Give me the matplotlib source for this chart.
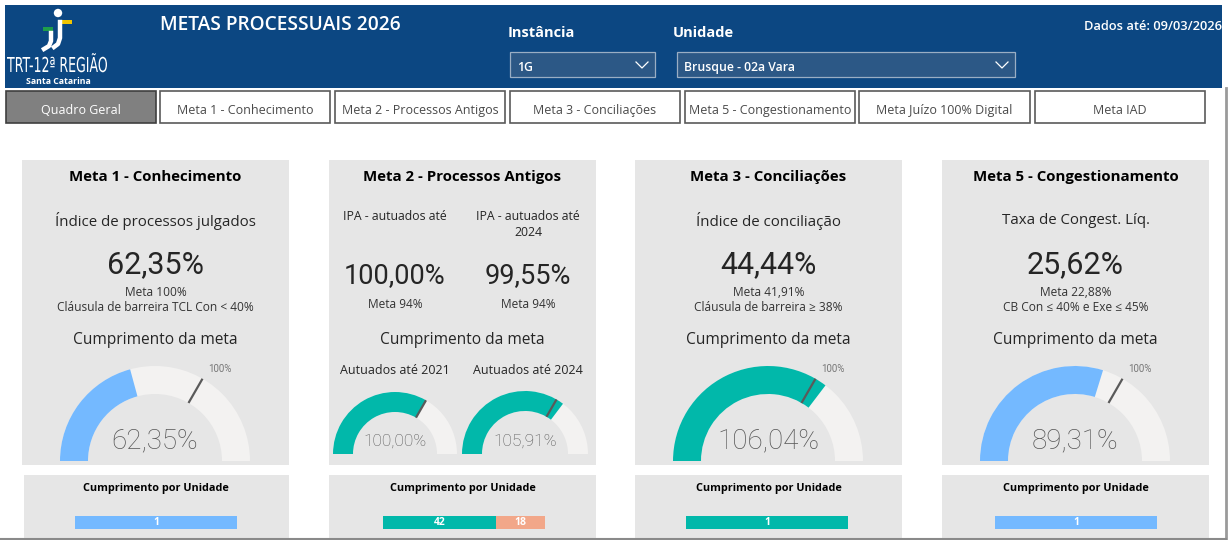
import math
import matplotlib.pyplot as plt
from matplotlib.patches import Rectangle, Wedge, Circle, PathPatch
from matplotlib.textpath import TextPath
from matplotlib.font_manager import FontProperties
from matplotlib.transforms import Affine2D

W, H = 1230, 540

# ── dados ───────────────────────────────────────────────────────────────
TITULO = "METAS PROCESSUAIS 2026"
INSTANCIA = "1G"
UNIDADE = "Brusque - 02a Vara"
DADOS_ATE = "Dados até: 09/03/2026"
TABS = ["Quadro Geral", "Meta 1 - Conhecimento", "Meta 2 - Processos Antigos",
        "Meta 3 - Conciliações", "Meta 5 - Congestionamento",
        "Meta Juízo 100% Digital", "Meta IAD"]

META_TITULOS = ["Meta 1 - Conhecimento", "Meta 2 - Processos Antigos",
                "Meta 3 - Conciliações", "Meta 5 - Congestionamento"]
INDICADORES = ["Índice de processos julgados", "Índice de conciliação",
               "Taxa de Congest. Líq."]          # metas 1, 3, 5
INDICADOR_VAL = [62.35, 44.44, 25.62]
INDICADOR_META = ["Meta 100%\nCláusula de barreira TCL Con < 40%",
                  "Meta 41,91%\nCláusula de barreira ≥ 38%",
                  "Meta 22,88%\nCB Con ≤ 40% e Exe ≤ 45%"]

META2_LABELS = ["IPA - autuados até", "IPA - autuados até\n2024"]
META2_VAL = [100.00, 99.55]
META2_META = [94, 94]
META2_GAUGE_LABELS = ["Autuados até 2021", "Autuados até 2024"]

# cumprimento da meta (%)
CUMPR_META1 = 62.35
CUMPR_META2 = [100.00, 105.91]
CUMPR_META3 = 106.04
CUMPR_META5 = 89.31
ALVO = 100
GAUGE_MAX = 150

# cumprimento por unidade
UNID_COUNTS = [[1], [42, 18], [1], [1]]

BLUE = "#74B9FF"
GREEN = "#01B8AA"
SALMON = "#F2A789"
UNID_COLORS = [[BLUE], [GREEN, SALMON], [GREEN], [BLUE]]

HEADER = "#0C4782"
PANEL = "#E6E6E6"
GAUGE_BG = "#F3F2F1"
FONT = ["Open Sans", "DejaVu Sans"]
NUMF = ["Roboto", "DejaVu Sans"]

fig = plt.figure(figsize=(W / 100, H / 100), dpi=100)
ax = fig.add_axes([0, 0, 1, 1])
ax.set_xlim(0, W)
ax.set_ylim(0, H)
ax.axis("off")


def Y(y):
    return H - y


def rect(x, y, w, h, fc, ec="none", lw=0, z=1):
    ax.add_patch(Rectangle((x, Y(y) - h), w, h, fc=fc, ec=ec, lw=lw, zorder=z))


def txt(x, y, s, size, color="#252525", weight="normal", ha="center", family=FONT,
        va="center", **kw):
    ax.text(x, Y(y), s, fontsize=size, color=color, fontweight=weight, ha=ha,
            va=va, family=family, zorder=5, **kw)


def fitted_text(s, x0, x1, y_top, y_bot, color, weight="normal"):
    # texto estreito (condensado) ajustado à caixa
    tp = TextPath((0, 0), s, size=20, prop=FontProperties(family="DejaVu Sans", weight=weight))
    ext = tp.get_extents()
    cap = TextPath((0, 0), "T", size=20, prop=FontProperties(family="DejaVu Sans", weight=weight)).get_extents()
    sx = (x1 - x0) / ext.width
    sy = (y_bot - y_top) / cap.height
    tr = Affine2D().translate(-ext.x0, 0).scale(sx, sy).translate(x0, Y(y_bot))
    ax.add_patch(PathPatch(tr.transform_path(tp), fc=color, ec="none", zorder=5))


def fmt(v):
    return f"{v:.2f}".replace(".", ",") + "%"


def gauge(cx, cy, R, r, val, color, val_size, val_dy, label_100=True):
    c = (cx, Y(cy))
    ax.add_patch(Wedge(c, R, 0, 180, width=R - r, fc=GAUGE_BG, ec="none", zorder=2))
    ang = 180 - 180 * min(val, GAUGE_MAX) / GAUGE_MAX
    ax.add_patch(Wedge(c, R, ang, 180, width=R - r, fc=color, ec="none", zorder=3))
    t = math.radians(180 - 180 * ALVO / GAUGE_MAX)
    ax.plot([cx + r * math.cos(t), cx + R * math.cos(t)],
            [Y(cy) + r * math.sin(t), Y(cy) + R * math.sin(t)],
            color="#5A5A5A", lw=1.6, zorder=4, solid_capstyle="butt")
    if label_100:
        txt(cx + (R + 14) * math.cos(t) + 10, cy - (R + 14) * math.sin(t) + 2,
            f"{ALVO}%", 7, color="#777777", family=NUMF)
    txt(cx, cy - val_dy, fmt(val), val_size, color="#555555", family=NUMF, weight="light")


# ── cabeçalho ──────────────────────────────────────────────────────────
rect(5, 5, 1217, 83, HEADER)
# logo
ax.add_patch(Circle((58, Y(13)), 4.2, fc="white", ec="none", zorder=4))
rect(62, 20, 10, 3.5, "#F2C500", z=4)
rect(43, 27, 10, 3.5, "#1E9E4A", z=4)
ax.plot([60, 60, 58, 54], [Y(22), Y(38), Y(44), Y(47)], color="white", lw=3.2, zorder=4)
ax.plot([51, 51, 49, 44], [Y(33), Y(41), Y(46), Y(49)], color="white", lw=3.2, zorder=4)
fitted_text("TRT-12ª REGIÃO", 7, 107, 57, 72, "white")
txt(58, 81, "Santa Catarina", 6.3, color="white", weight="bold")

txt(160, 25, TITULO, 13.8, color="white", ha="left", weight="semibold")
txt(508, 33, "Instância", 10.5, color="white", weight="bold", ha="left")
txt(673, 33, "Unidade", 10.5, color="white", weight="bold", ha="left")
txt(1222, 27, DADOS_ATE, 9.3, color="white", ha="right", weight="semibold")

for x0, x1, s in [(510, 655, INSTANCIA), (677, 1015, UNIDADE)]:
    rect(x0, 52, x1 - x0, 25, "#2C5886", ec="#9AAEC4", lw=0.9, z=2)
    txt(x0 + 7, 66, s, 8.8, color="white", ha="left", weight="semibold",
        va="center_baseline")
    cx = x1 - 13
    ax.plot([cx - 6, cx, cx + 6], [Y(62), Y(68), Y(62)], color="white", lw=0.9, zorder=4)

# ── abas ───────────────────────────────────────────────────────────────
tab_x = [6, 160, 335, 510, 685, 859, 1035]
tab_w = [150, 170, 170, 170, 170, 171, 170]
for i, (x, w, s) in enumerate(zip(tab_x, tab_w, TABS)):
    if i == 0:
        rect(x, 91, w, 32, "#808080", ec="#3F3F3F", lw=1.2, z=2)
        txt(x + w / 2, 109, s, 9, color="white", va="center_baseline")
    else:
        rect(x, 91, w, 32, "white", ec="#5A5A5A", lw=1.2, z=2)
        txt(x + w / 2, 109, s, 9, color="#4A4A4A", va="center_baseline")

# ── painéis ────────────────────────────────────────────────────────────
panel_x = [22, 329, 635, 942]
PW = 267
for i, x in enumerate(panel_x):
    rect(x, 160, PW, 305, PANEL)
    rect(x + 2 if i == 0 else x, 475, PW - (2 if i == 0 else 0), 70, PANEL)
    cx = x + PW / 2
    txt(cx, 177, META_TITULOS[i], 10.8, color="black", weight="bold")
    txt(cx, 340, "Cumprimento da meta", 11.2)
    txt(cx, 489, "Cumprimento por Unidade", 7.8, color="black", weight="bold")

# metas 1, 3, 5
for k, i in enumerate([0, 2, 3]):
    cx = panel_x[i] + PW / 2
    txt(cx, 221, INDICADORES[k], 10.8)
    txt(cx, 265, fmt(INDICADOR_VAL[k]), 22, family=NUMF)
    txt(cx, 300, INDICADOR_META[k], 8.6, color="#333333", linespacing=1.2)

gauge(panel_x[0] + 133, 461, 95, 67, CUMPR_META1, BLUE, 20, 20)
gauge(panel_x[2] + 133, 461, 95, 67, CUMPR_META3, GREEN, 20, 20)
gauge(panel_x[3] + 133, 461, 95, 67, CUMPR_META5, BLUE, 20, 20)

# meta 2
for j, cx in enumerate([395, 528]):
    lab = META2_LABELS[j]
    txt(cx, 216 if "\n" not in lab else 224, lab, 8.8, linespacing=1.3)
    txt(cx, 276, fmt(META2_VAL[j]), 19.5, family=NUMF)
    txt(cx, 304, f"Meta {META2_META[j]}%", 8.6, color="#333333")
    txt(cx, 370, META2_GAUGE_LABELS[j], 9)
gauge(395, 454, 62, 42, CUMPR_META2[0], GREEN, 12.5, 13, label_100=False)
gauge(525, 454, 63, 43, CUMPR_META2[1], GREEN, 12.5, 13, label_100=False)

# cumprimento por unidade (barras empilhadas)
bar_x = [75, 383, 686, 995]
for i, x in enumerate(bar_x):
    bax = fig.add_axes([x / W, (H - 529) / H, 162 / W, 13 / H])
    left = 0
    for v, c in zip(UNID_COUNTS[i], UNID_COLORS[i]):
        bax.barh(0, v, left=left, color=c, height=1.0)
        bax.text(left + v / 2, 0, str(v), ha="center", va="center", color="white",
                 fontsize=7.5, fontweight="bold", family=FONT)
        left += v
    bax.set_xlim(0, sum(UNID_COUNTS[i]))
    bax.set_ylim(-0.5, 0.5)
    bax.axis("off")

# borda da janela
ax.plot([1226, 1226], [Y(88), Y(540)], color="#9A9A9A", lw=2, zorder=6)
ax.plot([0, 1226], [Y(538.5), Y(538.5)], color="#8A8A8A", lw=1.5, zorder=6)

fig.savefig("out.png", dpi=100)
